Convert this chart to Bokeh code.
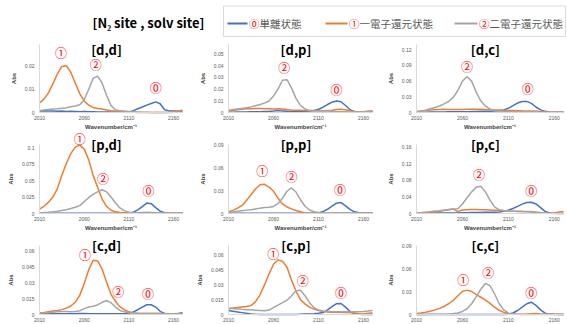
from bokeh.plotting import figure
from bokeh.layouts import column, row
from bokeh.models import Range1d, Label, FixedTicker, CustomJSTickFormatter
from bokeh.embed import file_html
from bokeh.resources import INLINE
from bokeh.core.properties import value

# ---------------- data ----------------
wavenumber = [2010, 2015, 2020, 2025, 2030, 2035, 2040, 2045, 2050, 2055, 2060,
              2065, 2070, 2075, 2080, 2085, 2090, 2095, 2100, 2105, 2110, 2115,
              2120, 2125, 2130, 2135, 2140, 2145, 2150, 2155, 2160, 2165, 2170]
x_ticks = [2010, 2060, 2110, 2160]

series_names = ["⓪単離状態", "①一電子還元状態", "②二電子還元状態"]
panel_titles = ["[d,d]", "[d,p]", "[d,c]", "[p,d]", "[p,p]", "[p,c]", "[c,d]", "[c,p]", "[c,c]"]

# [d,d]
dd_iso = [0.0007, 0.0008, 0.0007, 0.0006, 0.0005, 0.0006, 0.0004, 0.0005, 0.0004, 0.0003, 0.0004,
          0.0003, 0.0003, 0.0002, 0.0002, 0.0002, 0.0002, 0.0002, 0.0002, 0.0001, 0.0002, 0.0008,
          0.0016, 0.0024, 0.0032, 0.0039, 0.0046, 0.0038, 0.0012, 0.0007, 0.0006, 0.0005, 0.0005]
dd_one = [0.0041, 0.0058, 0.0085, 0.0125, 0.0168, 0.0200, 0.0203, 0.0175, 0.0128, 0.0082, 0.0050,
          0.0032, 0.0022, 0.0017, 0.0015, 0.0011, 0.0008, 0.0007, 0.0006, 0.0005, 0.0003, 0.0001,
          0.0, 0.0, 0.0, 0.0, 0.0, 0.0, 0.0, 0.0001, 0.0003, 0.0007, 0.0010]
dd_two = [0.0008, 0.0011, 0.0013, 0.0015, 0.0016, 0.0018, 0.0021, 0.0025, 0.0028, 0.0034, 0.0055,
          0.0100, 0.0148, 0.0158, 0.0128, 0.0075, 0.0030, 0.0012, 0.0007, 0.0005, 0.0004, 0.0003,
          0.0002, 0.0001, 0.0001, 0.0, 0.0, 0.0, 0.0, 0.0, 0.0001, 0.0002, 0.0002]
# [d,p]
dp_iso = [0.0003, 0.0003, 0.0004, 0.0004, 0.0005, 0.0006, 0.0006, 0.0007, 0.0008, 0.0009, 0.0012,
          0.0016, 0.0013, 0.0010, 0.0009, 0.0009, 0.0010, 0.0011, 0.0012, 0.0018, 0.0028, 0.0045,
          0.0068, 0.0088, 0.0098, 0.0092, 0.0060, 0.0025, 0.0007, 0.0002, 0.0002, 0.0004, 0.0006]
dp_one = [0.0012, 0.0018, 0.0024, 0.0028, 0.0031, 0.0033, 0.0034, 0.0034, 0.0033, 0.0032, 0.0030,
          0.0031, 0.0029, 0.0025, 0.0022, 0.0020, 0.0019, 0.0018, 0.0018, 0.0017, 0.0016, 0.0015,
          0.0016, 0.0020, 0.0025, 0.0027, 0.0024, 0.0015, 0.0008, 0.0005, 0.0007, 0.0011, 0.0015]
dp_two = [0.0020, 0.0025, 0.0030, 0.0035, 0.0040, 0.0048, 0.0058, 0.0068, 0.0080, 0.0098, 0.0140,
          0.0200, 0.0275, 0.0280, 0.0210, 0.0120, 0.0060, 0.0030, 0.0016, 0.0013, 0.0012, 0.0012,
          0.0012, 0.0010, 0.0008, 0.0007, 0.0006, 0.0005, 0.0005, 0.0005, 0.0007, 0.0009, 0.0010]
# [d,c]
dc_iso = [0.0005, 0.0006, 0.0007, 0.0008, 0.0009, 0.0010, 0.0011, 0.0012, 0.0013, 0.0014, 0.0015,
          0.0016, 0.0018, 0.0020, 0.0022, 0.0024, 0.0026, 0.0029, 0.0035, 0.0050, 0.0080, 0.0130,
          0.0180, 0.0210, 0.0212, 0.0175, 0.0105, 0.0050, 0.0022, 0.0010, 0.0005, 0.0004, 0.0004]
dc_one = [0.0020, 0.0030, 0.0040, 0.0048, 0.0054, 0.0058, 0.0060, 0.0058, 0.0055, 0.0055, 0.0057,
          0.0060, 0.0062, 0.0062, 0.0060, 0.0058, 0.0055, 0.0050, 0.0046, 0.0042, 0.0040, 0.0038,
          0.0035, 0.0032, 0.0030, 0.0028, 0.0025, 0.0020, 0.0014, 0.0008, 0.0004, 0.0005, 0.0008]
dc_two = [0.0010, 0.0025, 0.0045, 0.0070, 0.0095, 0.0125, 0.0165, 0.0210, 0.0290, 0.0420, 0.0600,
          0.0685, 0.0600, 0.0390, 0.0220, 0.0125, 0.0065, 0.0040, 0.0028, 0.0022, 0.0018, 0.0015,
          0.0013, 0.0012, 0.0011, 0.0010, 0.0008, 0.0006, 0.0005, 0.0005, 0.0005, 0.0008, 0.0010]
# [p,d]
pd_iso = [0.0003, 0.0003, 0.0004, 0.0004, 0.0003, 0.0003, 0.0004, 0.0004, 0.0003, 0.0003, 0.0003,
          0.0004, 0.0004, 0.0003, 0.0003, 0.0003, 0.0004, 0.0004, 0.0004, 0.0004, 0.0006, 0.0020,
          0.0055, 0.0105, 0.0158, 0.0150, 0.0090, 0.0035, 0.0012, 0.0005, 0.0003, 0.0003, 0.0003]
pd_one = [0.0066, 0.0110, 0.0170, 0.0250, 0.0380, 0.0580, 0.0760, 0.0910, 0.1010, 0.1040, 0.0980,
          0.0820, 0.0580, 0.0400, 0.0220, 0.0110, 0.0050, 0.0025, 0.0016, 0.0010, 0.0006, 0.0004,
          0.0003, 0.0002, 0.0002, 0.0002, 0.0002, 0.0002, 0.0002, 0.0002, 0.0002, 0.0002, 0.0002]
pd_two = [0.0010, 0.0014, 0.0020, 0.0027, 0.0035, 0.0045, 0.0057, 0.0075, 0.0095, 0.0120, 0.0180,
          0.0240, 0.0290, 0.0330, 0.0362, 0.0330, 0.0250, 0.0160, 0.0085, 0.0040, 0.0020, 0.0013,
          0.0012, 0.0015, 0.0018, 0.0016, 0.0012, 0.0009, 0.0007, 0.0006, 0.0005, 0.0005, 0.0005]
# [p,p]
pp_iso = [0.0005, 0.0004, 0.0004, 0.0003, 0.0003, 0.0004, 0.0004, 0.0003, 0.0003, 0.0004, 0.0004,
          0.0003, 0.0003, 0.0004, 0.0004, 0.0004, 0.0003, 0.0003, 0.0004, 0.0005, 0.0008, 0.0025,
          0.0055, 0.0095, 0.0135, 0.0143, 0.0100, 0.0055, 0.0022, 0.0010, 0.0006, 0.0005, 0.0004]
pp_one = [0.0022, 0.0040, 0.0070, 0.0105, 0.0170, 0.0245, 0.0320, 0.0375, 0.0380, 0.0345, 0.0290,
          0.0200, 0.0125, 0.0085, 0.0060, 0.0040, 0.0022, 0.0008, 0.0003, 0.0002, 0.0002, 0.0002,
          0.0002, 0.0002, 0.0002, 0.0002, 0.0002, 0.0002, 0.0002, 0.0002, 0.0002, 0.0002, 0.0002]
pp_two = [0.0013, 0.0020, 0.0028, 0.0036, 0.0044, 0.0050, 0.0060, 0.0070, 0.0077, 0.0082, 0.0092,
          0.0130, 0.0200, 0.0290, 0.0333, 0.0280, 0.0180, 0.0095, 0.0045, 0.0022, 0.0012, 0.0008,
          0.0007, 0.0008, 0.0010, 0.0011, 0.0010, 0.0008, 0.0006, 0.0005, 0.0005, 0.0005, 0.0005]
# [p,c]
pc_iso = [0.0008, 0.0009, 0.0010, 0.0011, 0.0012, 0.0013, 0.0013, 0.0013, 0.0012, 0.0015, 0.0018,
          0.0020, 0.0022, 0.0024, 0.0026, 0.0028, 0.0030, 0.0033, 0.0038, 0.0055, 0.0080, 0.0120,
          0.0170, 0.0225, 0.0265, 0.0272, 0.0230, 0.0140, 0.0050, 0.0015, 0.0005, 0.0003, 0.0003]
pc_one = [0.0010, 0.0018, 0.0025, 0.0032, 0.0040, 0.0050, 0.0070, 0.0092, 0.0110, 0.0045, 0.0085,
          0.0092, 0.0095, 0.0095, 0.0093, 0.0090, 0.0085, 0.0078, 0.0070, 0.0065, 0.0060, 0.0057,
          0.0055, 0.0052, 0.0050, 0.0045, 0.0030, 0.0018, 0.0008, 0.0003, 0.0010, 0.0035, 0.0050]
pc_two = [0.0010, 0.0020, 0.0032, 0.0045, 0.0058, 0.0068, 0.0082, 0.0098, 0.0108, 0.0115, 0.0230,
          0.0380, 0.0520, 0.0630, 0.0655, 0.0520, 0.0320, 0.0160, 0.0090, 0.0070, 0.0060, 0.0055,
          0.0050, 0.0045, 0.0040, 0.0035, 0.0028, 0.0020, 0.0012, 0.0006, 0.0003, 0.0004, 0.0006]
# [c,d]
cd_iso = [0.0006, 0.0006, 0.0007, 0.0008, 0.0008, 0.0007, 0.0007, 0.0008, 0.0008, 0.0009, 0.0009,
          0.0008, 0.0008, 0.0007, 0.0007, 0.0007, 0.0008, 0.0008, 0.0008, 0.0009, 0.0012, 0.0025,
          0.0045, 0.0070, 0.0092, 0.0092, 0.0070, 0.0030, 0.0010, 0.0005, 0.0005, 0.0008, 0.0018]
cd_one = [0.0016, 0.0020, 0.0026, 0.0032, 0.0038, 0.0046, 0.0060, 0.0080, 0.0115, 0.0180, 0.0290,
          0.0420, 0.0510, 0.0505, 0.0430, 0.0306, 0.0190, 0.0125, 0.0072, 0.0045, 0.0025, 0.0015,
          0.0012, 0.0010, 0.0009, 0.0009, 0.0010, 0.0010, 0.0009, 0.0007, 0.0005, 0.0004, 0.0004]
cd_two = [0.0010, 0.0013, 0.0017, 0.0021, 0.0025, 0.0028, 0.0028, 0.0027, 0.0028, 0.0035, 0.0055,
          0.0070, 0.0078, 0.0090, 0.0115, 0.0132, 0.0110, 0.0070, 0.0038, 0.0025, 0.0017, 0.0013,
          0.0011, 0.0010, 0.0010, 0.0009, 0.0009, 0.0009, 0.0008, 0.0008, 0.0008, 0.0009, 0.0010]
# [c,p]
cp_iso = [0.0040, 0.0033, 0.0026, 0.0019, 0.0012, 0.0006, 0.0002, 0.0, 0.0, 0.0, 0.0,
          0.0, 0.0, 0.0, 0.0, 0.0, 0.0002, 0.0004, 0.0006, 0.0008, 0.0012, 0.0020,
          0.0048, 0.0080, 0.0110, 0.0112, 0.0075, 0.0030, 0.0008, 0.0002, 0.0, 0.0, 0.0]
cp_one = [0.0058, 0.0065, 0.0070, 0.0076, 0.0082, 0.0090, 0.0130, 0.0200, 0.0300, 0.0410, 0.0510,
          0.0553, 0.0540, 0.0480, 0.0350, 0.0235, 0.0150, 0.0108, 0.0075, 0.0055, 0.0040, 0.0030,
          0.0026, 0.0024, 0.0022, 0.0022, 0.0021, 0.0020, 0.0015, 0.0008, 0.0006, 0.0012, 0.0016]
cp_two = [0.0064, 0.0060, 0.0056, 0.0052, 0.0049, 0.0047, 0.0044, 0.0041, 0.0038, 0.0045, 0.0070,
          0.0095, 0.0120, 0.0145, 0.0190, 0.0240, 0.0245, 0.0190, 0.0120, 0.0070, 0.0045, 0.0036,
          0.0032, 0.0030, 0.0029, 0.0028, 0.0028, 0.0028, 0.0028, 0.0029, 0.0031, 0.0035, 0.0040]
# [c,c]
cc_iso = [0.0001, 0.0001, 0.0001, 0.0001, 0.0001, 0.0001, 0.0001, 0.0001, 0.0001, 0.0001, 0.0001,
          0.0001, 0.0001, 0.0001, 0.0001, 0.0001, 0.0001, 0.0001, 0.0001, 0.0001, 0.0004, 0.0020,
          0.0052, 0.0095, 0.0140, 0.0160, 0.0120, 0.0060, 0.0018, 0.0005, 0.0002, 0.0001, 0.0001]
cc_one = [0.0013, 0.0020, 0.0030, 0.0043, 0.0060, 0.0080, 0.0105, 0.0140, 0.0185, 0.0245, 0.0300,
          0.0318, 0.0300, 0.0260, 0.0225, 0.0188, 0.0145, 0.0095, 0.0055, 0.0027, 0.0012, 0.0006,
          0.0004, 0.0004, 0.0006, 0.0010, 0.0012, 0.0008, 0.0004, 0.0002, 0.0002, 0.0002, 0.0002]
cc_two = [0.0, 0.0001, 0.0001, 0.0002, 0.0002, 0.0003, 0.0004, 0.0007, 0.0012, 0.0020, 0.0040,
          0.0075, 0.0140, 0.0230, 0.0330, 0.0405, 0.0375, 0.0270, 0.0140, 0.0060, 0.0018, 0.0005,
          0.0002, 0.0001, 0.0001, 0.0001, 0.0001, 0.0001, 0.0001, 0.0001, 0.0001, 0.0001, 0.0001]

panel_series = [(dd_iso, dd_one, dd_two), (dp_iso, dp_one, dp_two), (dc_iso, dc_one, dc_two),
                (pd_iso, pd_one, pd_two), (pp_iso, pp_one, pp_two), (pc_iso, pc_one, pc_two),
                (cd_iso, cd_one, cd_two), (cp_iso, cp_one, cp_two), (cc_iso, cc_one, cc_two)]

y_max = [0.0295, 0.058, 0.13, 0.105, 0.09, 0.166, 0.065, 0.07, 0.09]
y_ticks = [[0, 0.01, 0.02],
           [0, 0.01, 0.02, 0.03, 0.04, 0.05],
           [0, 0.03, 0.06, 0.09, 0.12],
           [0, 0.025, 0.05, 0.075, 0.1],
           [0, 0.03, 0.06, 0.09],
           [0, 0.04, 0.08, 0.12, 0.16],
           [0, 0.015, 0.03, 0.045, 0.06],
           [0, 0.015, 0.03, 0.045, 0.06],
           [0, 0.03, 0.06, 0.09]]

# circled peak markers (annotation placement in data units)
peak_marks = [
    [("①", 2034, 0.0262), ("②", 2073, 0.0209), ("⓪", 2140, 0.0107)],
    [("②", 2072, 0.038), ("⓪", 2130, 0.0195)],
    [("②", 2065, 0.088), ("⓪", 2131, 0.0455)],
    [("①", 2055, 0.1141), ("②", 2081, 0.053), ("⓪", 2132, 0.0355)],
    [("①", 2047.5, 0.056), ("②", 2080, 0.0487), ("⓪", 2134, 0.0307)],
    [("②", 2078, 0.0937), ("⓪", 2135, 0.0564)],
    [("①", 2061, 0.0565), ("②", 2098, 0.0218), ("⓪", 2131.5, 0.0196)],
    [("①", 2059.6, 0.0617), ("②", 2092.6, 0.0346), ("⓪", 2135, 0.0227)],
    [("①", 2061, 0.0453), ("②", 2088, 0.0547), ("⓪", 2135, 0.0289)],
]

# ---------------- style / layout ----------------
BLUE, ORANGE, GRAY = "#4472C4", "#ED7D31", "#A5A5A5"
TXT, AXIS, RED = "#595959", "#D9D9D9", "#FF0000"
JP = "Noto Sans CJK JP"
LAT = "Liberation Sans"

X0, X1 = 2010, 2170
col_w = [189, 189, 189]
col_left = [39, 39, 38]            # pixels left of the y axis
col_plot_w = [143, 144, 147]       # pixel width of the data area
row_h = [92, 101, 93]
row_below = [18, 18, 10]           # pixels below the x axis
row_plot_h = [68, 69, 69]          # pixel height of 0..y_max
row_title_frac = [0.93, 1.0, 1.0]  # panel title height relative to y_max

fmt = CustomJSTickFormatter(code="return String(Math.round(tick*10000)/10000);")


def make_panel(i):
    r, c = divmod(i, 3)
    iso, one, two = panel_series[i]
    sx = col_plot_w[c] / (X1 - X0)
    x_start = X0 - col_left[c] / sx
    x_end = X1 + (col_w[c] - col_left[c] - col_plot_w[c]) / sx
    sy = row_plot_h[r] / y_max[i]
    y_start = -row_below[r] / sy
    y_end = (row_h[r] - row_below[r]) / sy
    p = figure(width=col_w[c], height=row_h[r],
               x_range=Range1d(x_start, x_end), y_range=Range1d(y_start, y_end),
               output_backend="svg", toolbar_location=None, min_border=0)
    p.xgrid.grid_line_color = None
    p.ygrid.grid_line_color = None
    p.outline_line_color = None
    for ys, colr in ((iso, BLUE), (one, ORANGE), (two, GRAY)):
        p.line(wavenumber, ys, line_color=colr, line_width=1.5)

    xa = p.xaxis[0]
    xa.fixed_location = 0
    xa.bounds = (X0, X1)
    xa.ticker = FixedTicker(ticks=x_ticks)
    xa.axis_line_color = AXIS
    xa.major_tick_line_color = None
    xa.minor_tick_line_color = None
    xa.major_tick_out = 0
    xa.major_tick_in = 0
    xa.major_label_text_font = LAT
    xa.major_label_text_font_size = "5px"
    xa.major_label_text_color = TXT
    xa.major_label_standoff = 3
    if r < 2:
        xa.axis_label = "Wavenumber/cm⁻¹"
        xa.axis_label_text_font = LAT
        xa.axis_label_text_font_size = "6px"
        xa.axis_label_text_font_style = "bold"
        xa.axis_label_text_color = "#404040"
        xa.axis_label_standoff = 1

    ya = p.yaxis[0]
    ya.fixed_location = X0
    ya.bounds = (0, y_max[i])
    ya.ticker = FixedTicker(ticks=y_ticks[i])
    ya.formatter = fmt
    ya.axis_line_color = AXIS
    ya.major_tick_line_color = None
    ya.minor_tick_line_color = None
    ya.major_tick_out = 0
    ya.major_tick_in = 0
    ya.major_label_text_font = LAT
    ya.major_label_text_font_size = "5px"
    ya.major_label_text_color = TXT
    ya.major_label_standoff = 5
    ya.axis_label = "Abs"
    ya.axis_label_text_font = LAT
    ya.axis_label_text_font_size = "6px"
    ya.axis_label_text_font_style = "bold"
    ya.axis_label_text_color = "#404040"
    ya.axis_label_standoff = 5

    p.add_layout(Label(x=2085, y=y_max[i] * row_title_frac[r], text=panel_titles[i],
                       text_align="center", text_baseline="middle",
                       text_font=JP, text_font_style="bold",
                       text_font_size="13px", text_color="#000000"))
    for txt, mx, my in peak_marks[i]:
        p.add_layout(Label(x=mx, y=my, text=txt, text_align="center",
                           text_baseline="middle", text_font=JP,
                           text_font_size="12px", text_color=RED))
    return p


panels = [make_panel(i) for i in range(9)]

# ---------------- header (title + legend) ----------------
HW, HH = 567, 38
hdr = figure(width=HW, height=HH, x_range=Range1d(0, HW), y_range=Range1d(HH, 0),
             x_axis_type=None, y_axis_type=None, output_backend="svg",
             toolbar_location=None, min_border=0)
hdr.grid.visible = False
hdr.outline_line_color = None

hdr.text(x=[148], y=[21.5], text=["[N₂ site , solv site]"], text_font=value(JP),
         text_font_style="bold", text_font_size="13px", text_color="#000000",
         text_align="center", text_baseline="middle")

hdr.quad(left=[223], right=[565], top=[5.5], bottom=[36],
         fill_color="white", line_color=AXIS, line_width=1)

leg_line_x0 = [227, 325, 454]
leg_line_x1 = [247, 347, 477]
leg_colors = [BLUE, ORANGE, GRAY]
hdr.segment(x0=leg_line_x0, y0=[23, 23, 23], x1=leg_line_x1, y1=[23, 23, 23],
            line_color=leg_colors, line_width=1.8)
digit_x = [x + 1.5 for x in leg_line_x1]
hdr.text(x=digit_x, y=[23, 23, 23], text=[s[0] for s in series_names],
         text_font=value(JP), text_font_size="10.5px", text_color=RED,
         text_align="left", text_baseline="middle")
hdr.text(x=[x + 10.5 for x in digit_x], y=[23, 23, 23], text=[s[1:] for s in series_names],
         text_font=value(JP), text_font_size="10.5px", text_color=TXT,
         text_align="left", text_baseline="middle")

layout = column(hdr, row(*panels[0:3]), row(*panels[3:6]), row(*panels[6:9]))

open("out.html", "w").write(file_html(layout, INLINE))
